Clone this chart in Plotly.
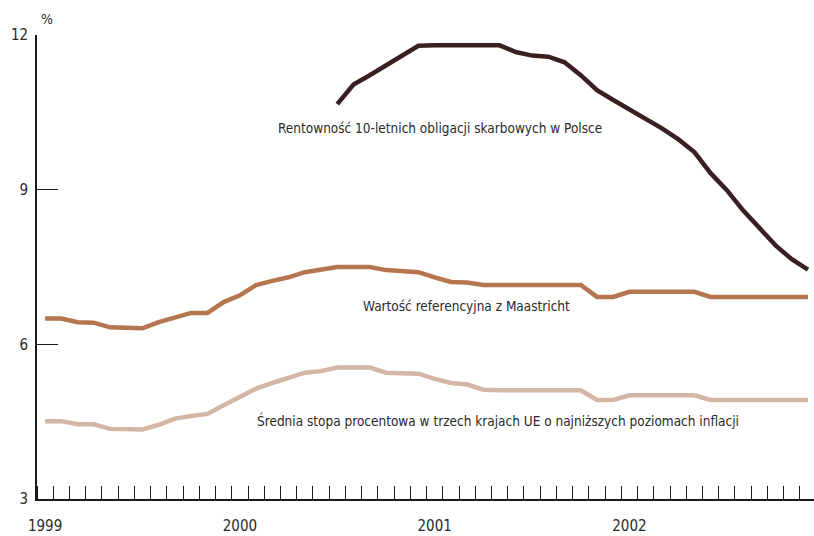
import plotly.graph_objects as go

# ---------------- data ----------------
months = [f"{y}-{m:02d}" for y in (1999, 2000, 2001, 2002) for m in range(1, 13)]
year_labels = ["1999", "2000", "2001", "2002"]
y_ticks = [3, 6, 9, 12]

poland_10y = [None] * 18 + [
    10.66, 11.04, 11.22, 11.41, 11.60, 11.79, 11.80, 11.80, 11.80, 11.80,
    11.80, 11.67, 11.60, 11.58, 11.47, 11.22, 10.93, 10.74, 10.56, 10.39,
    10.19, 9.98, 9.73, 9.32, 8.99, 8.60, 8.27, 7.92, 7.65, 7.45,
]
maastricht_ref = [
    6.50, 6.50, 6.43, 6.42, 6.33, 6.31, 6.31, 6.43, 6.53, 6.61, 6.61, 6.82,
    6.95, 7.15, 7.23, 7.30, 7.40, 7.44, 7.50, 7.50, 7.50, 7.44, 7.43, 7.40,
    7.30, 7.21, 7.20, 7.15, 7.15, 7.15, 7.15, 7.15, 7.15, 7.15, 6.92, 6.92,
    7.02, 7.02, 7.02, 7.02, 7.02, 6.92, 6.92, 6.92, 6.92, 6.92, 6.92, 6.92,
]
eu3_avg = [
    4.51, 4.51, 4.45, 4.45, 4.36, 4.35, 4.35, 4.44, 4.56, 4.61, 4.65, 4.82,
    4.97, 5.14, 5.25, 5.34, 5.45, 5.48, 5.55, 5.55, 5.55, 5.45, 5.44, 5.43,
    5.33, 5.25, 5.22, 5.12, 5.11, 5.11, 5.11, 5.11, 5.11, 5.11, 4.92, 4.92,
    5.01, 5.01, 5.01, 5.01, 5.01, 4.92, 4.92, 4.92, 4.92, 4.92, 4.92, 4.92,
]
series_names = [
    "Rentowność 10-letnich obligacji skarbowych w Polsce",
    "Wartość referencyjna z Maastricht",
    "Średnia stopa procentowa w trzech krajach UE o najniższych poziomach inflacji",
]

# month index positions (centre of each month band)
xpos = [i + 0.5 for i in range(len(months))]
year_pos = [months.index(f"{y}-01") + 0.5 for y in year_labels]

FONT = "DejaVu Sans Condensed, DejaVu Sans, sans-serif"
TXT = "#2a2a2a"
LBL = 13.5

fig = go.Figure()
fig.add_trace(go.Scatter(x=xpos, y=eu3_avg, mode="lines", name=series_names[2],
                         line=dict(color="#d3b6a4", width=4.5), hoverinfo="skip"))
fig.add_trace(go.Scatter(x=xpos, y=maastricht_ref, mode="lines", name=series_names[1],
                         line=dict(color="#b5764f", width=4.5), hoverinfo="skip"))
fig.add_trace(go.Scatter(x=xpos, y=poland_10y, mode="lines", name=series_names[0],
                         line=dict(color="#3a1f20", width=4.5), hoverinfo="skip"))

# in-chart labels
fig.add_annotation(x=14.73, y=10.2, text=series_names[0], showarrow=False,
                   xanchor="left", yanchor="middle", font=dict(family=FONT, size=LBL, color=TXT))
fig.add_annotation(x=19.96, y=6.74, text=series_names[1], showarrow=False,
                   xanchor="left", yanchor="middle", font=dict(family=FONT, size=LBL, color=TXT))
fig.add_annotation(x=13.43, y=4.53, text=series_names[2], showarrow=False,
                   xanchor="left", yanchor="middle", font=dict(family=FONT, size=LBL, color=TXT))
fig.add_annotation(x=0, y=1, xref="paper", yref="paper", text="%", showarrow=False,
                   xanchor="left", yanchor="bottom", xshift=2, yshift=6,
                   font=dict(family=FONT, size=14, color=TXT))

fig.update_layout(
    width=814, height=536,
    margin=dict(l=37, r=0, t=35, b=37),
    paper_bgcolor="white", plot_bgcolor="white",
    showlegend=False,
    font=dict(family=FONT, size=15, color=TXT),
    xaxis=dict(
        range=[0, 47.87], showgrid=False, zeroline=False, automargin=False,
        showline=True, linecolor="#1a1a1a", linewidth=1.6,
        tickmode="array", tickvals=year_pos, ticktext=year_labels,
        ticks="", ticklabelstandoff=12, tickfont=dict(size=15),
        minor=dict(tick0=0, dtick=1, ticks="inside", ticklen=13,
                   tickwidth=1.4, tickcolor="#1a1a1a", showgrid=False),
    ),
    yaxis=dict(
        range=[3, 12], showgrid=False, zeroline=False, automargin=False,
        showline=True, linecolor="#1a1a1a", linewidth=1.6,
        tickmode="array", tickvals=y_ticks, tickfont=dict(size=15),
        ticks="inside", ticklen=21, tickwidth=1.4, tickcolor="#1a1a1a",
        ticklabelstandoff=4,
    ),
)

fig.write_html(
    "out.html",
    config={"displayModeBar": False},
    post_script="document.body.style.margin='0';document.body.style.padding='0';",
)
